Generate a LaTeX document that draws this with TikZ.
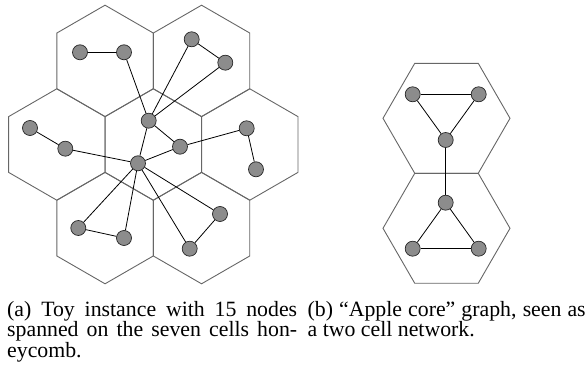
\documentclass[tikz,border=0pt]{standalone}
\usepackage{fontspec}
\setmainfont{Liberation Serif}
\begin{document}
\begin{tikzpicture}[x=1pt,y=-1pt,
  vtx/.style={circle,draw=black!85,fill=black!45,line width=0.7pt,minimum size=15pt,inner sep=0pt},
  cellline/.style={draw=black!60,line width=0.9pt},
  edge/.style={draw=black,line width=0.8pt},
  captext/.style={anchor=base west,inner sep=0pt,font=\fontsize{21.8}{20.3}\selectfont}]
\useasboundingbox (0,0) rectangle (587,371);
% pointy-top hexagons (left honeycomb)
\def\R{55.7}
\foreach \cx/\cy in {153.3/144.5, 249.8/144.5, 56.8/144.5, 105.05/60.9, 201.55/60.9, 105.05/228.1, 201.55/228.1}{
  \draw[cellline] (\cx,\cy) +(30:\R) -- +(90:\R) -- +(150:\R) -- +(210:\R) -- +(270:\R) -- +(330:\R) -- cycle;
}
% flat-top hexagons (right)
\def\Rb{63.5}
\foreach \cx/\cy in {446.5/118.3, 446.5/228.3}{
  \draw[cellline] (\cx,\cy) +(0:\Rb) -- +(60:\Rb) -- +(120:\Rb) -- +(180:\Rb) -- +(240:\Rb) -- +(300:\Rb) -- cycle;
}
% left graph nodes
\node[vtx] (n1) at (80,52.3) {};
\node[vtx] (n2) at (124,52.3) {};
\node[vtx] (n3) at (191.7,39.3) {};
\node[vtx] (n4) at (225.3,62.7) {};
\node[vtx] (n5) at (148.7,120.7) {};
\node[vtx] (n6) at (180,146.7) {};
\node[vtx] (n7) at (246.7,128.3) {};
\node[vtx] (n8) at (256,169.3) {};
\node[vtx] (n9) at (30,128) {};
\node[vtx] (n10) at (65.3,148.7) {};
\node[vtx] (n11) at (138,163.3) {};
\node[vtx] (n12) at (78.3,228) {};
\node[vtx] (n13) at (124,238) {};
\node[vtx] (n14) at (220,214) {};
\node[vtx] (n15) at (189.7,248.7) {};
% right graph nodes
\node[vtx] (t1) at (412.7,94.3) {};
\node[vtx] (t2) at (478.7,94.3) {};
\node[vtx] (t3) at (445.7,140) {};
\node[vtx] (b1) at (445.7,202.7) {};
\node[vtx] (b2) at (412.7,248.7) {};
\node[vtx] (b3) at (478.7,248.7) {};
% edges
\foreach \a/\b in {n1/n2,n2/n5,n3/n4,n3/n5,n4/n5,n5/n6,n5/n11,n6/n11,n6/n7,n7/n8,n9/n10,n10/n11,n11/n12,n11/n13,n12/n13,n11/n14,n11/n15,n14/n15,t1/t2,t1/t3,t2/t3,t3/b1,b1/b2,b1/b3,b2/b3}{
  \draw[edge] (\a) -- (\b);
}
% captions
\node[captext] (ca1) at (7,316.7) {\makebox[290pt][s]{(a) Toy instance with 15 nodes}};
\node[captext] (ca2) at (7,337) {\makebox[290pt][s]{spanned on the seven cells hon-}};
\node[captext] (ca3) at (7,357.3) {eycomb.};
\node[captext] (cb1) at (307.5,316.7) {\makebox[278pt][s]{(b) “Apple core” graph, seen as}};
\node[captext] (cb2) at (307.5,337) {a two cell network.};
\end{tikzpicture}
\end{document}
